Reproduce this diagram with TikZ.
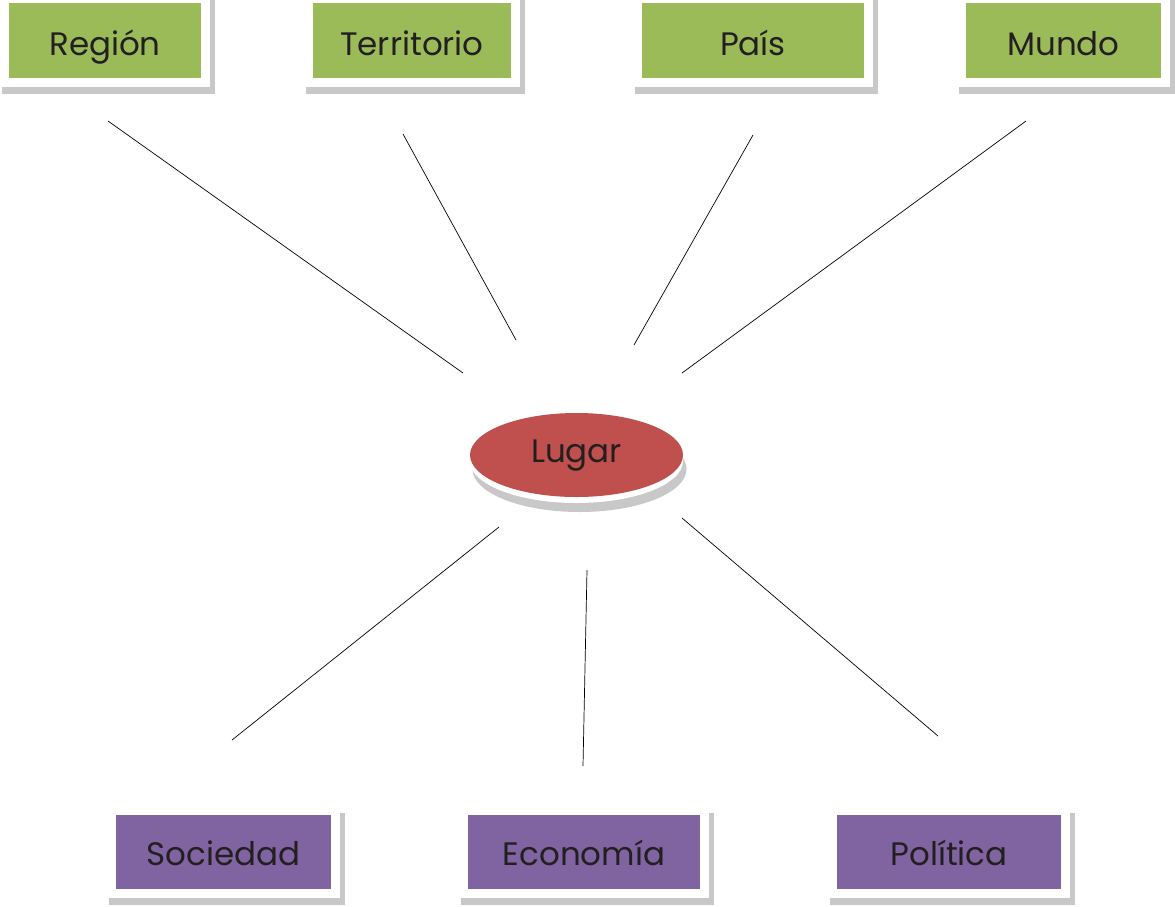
\documentclass[tikz,border=0pt]{standalone}
\usepackage{fontspec}
\setmainfont{Poppins}
\usetikzlibrary{backgrounds,shapes.geometric}

\definecolor{verde}{HTML}{9BBB59}
\definecolor{morado}{HTML}{8064A2}
\definecolor{rojo}{HTML}{C0504D}
\definecolor{sombra}{HTML}{C8C8C8}
\definecolor{letra}{HTML}{231F20}

\tikzset{
  tarjeta/.style={rectangle, inner sep=0pt, minimum height=75pt, text=letra,
    font=\fontsize{32.5}{36}\selectfont, text height=30pt, text depth=0pt},
  enlace/.style={draw=black, line width=0.7pt}
}

\begin{document}
\begin{tikzpicture}[x=1pt, y=-1pt]
    \useasboundingbox (0,0) rectangle (1175,906);

    % Nodes
    \node (region) [tarjeta, fill=verde, minimum width=192pt] at (105,40) {Región};
    \node (territorio) [tarjeta, fill=verde, minimum width=198pt] at (412,40) {Territorio};
    \node (pais) [tarjeta, fill=verde, minimum width=222pt] at (753,40) {País};
    \node (mundo) [tarjeta, fill=verde, minimum width=195pt] at (1063.5,40) {Mundo};
    \node (sociedad) [tarjeta, fill=morado, minimum width=215pt, minimum height=74pt, text height=26pt] at (223.5,852) {Sociedad};
    \node (economia) [tarjeta, fill=morado, minimum width=232pt, minimum height=74pt, text height=26pt] at (584,852) {Economía};
    \node (politica) [tarjeta, fill=morado, minimum width=224pt, minimum height=74pt, text height=26pt] at (949,852) {Política};
    \node (lugar) [ellipse, fill=rojo, minimum width=213pt, minimum height=84pt, inner sep=0pt,
      text=letra, font=\fontsize{32.5}{36}\selectfont, text height=14pt, text depth=0pt] at (576.5,455) {Lugar};

    % Shadows
    \begin{scope}[on background layer]
      \foreach \n in {region,territorio,pais,mundo,sociedad,economia,politica} {
        \fill[sombra] ([xshift=-7pt, yshift=2pt]\n.north west) rectangle ([xshift=14pt, yshift=-16pt]\n.south east);
        \fill[white] ([xshift=-8pt, yshift=8pt]\n.north west) rectangle ([xshift=9pt, yshift=-9pt]\n.south east);
      }
      \fill[sombra] ([xshift=3pt, yshift=-14pt]lugar.center) ellipse [x radius=107pt, y radius=43pt];
      \fill[white] ([yshift=-6pt]lugar.center) ellipse [x radius=106.5pt, y radius=42pt];
    \end{scope}

    % Line ends
    \coordinate (a1) at (108,121);   \coordinate (a2) at (463,373);
    \coordinate (b1) at (403,134);   \coordinate (b2) at (516,340);
    \coordinate (c1) at (753,135);   \coordinate (c2) at (634,345);
    \coordinate (d1) at (1026,121);  \coordinate (d2) at (682,373);
    \coordinate (e1) at (499,527);   \coordinate (e2) at (232,740);
    \coordinate (f1) at (587,570);   \coordinate (f2) at (583,766);
    \coordinate (g1) at (682,518);   \coordinate (g2) at (938,736);

    % Lines
    \draw[enlace] (a1) -- (a2);
    \draw[enlace] (b1) -- (b2);
    \draw[enlace] (c1) -- (c2);
    \draw[enlace] (d1) -- (d2);
    \draw[enlace] (e1) -- (e2);
    \draw[enlace] (f1) -- (f2);
    \draw[enlace] (g1) -- (g2);
  \end{tikzpicture}
\end{document}
